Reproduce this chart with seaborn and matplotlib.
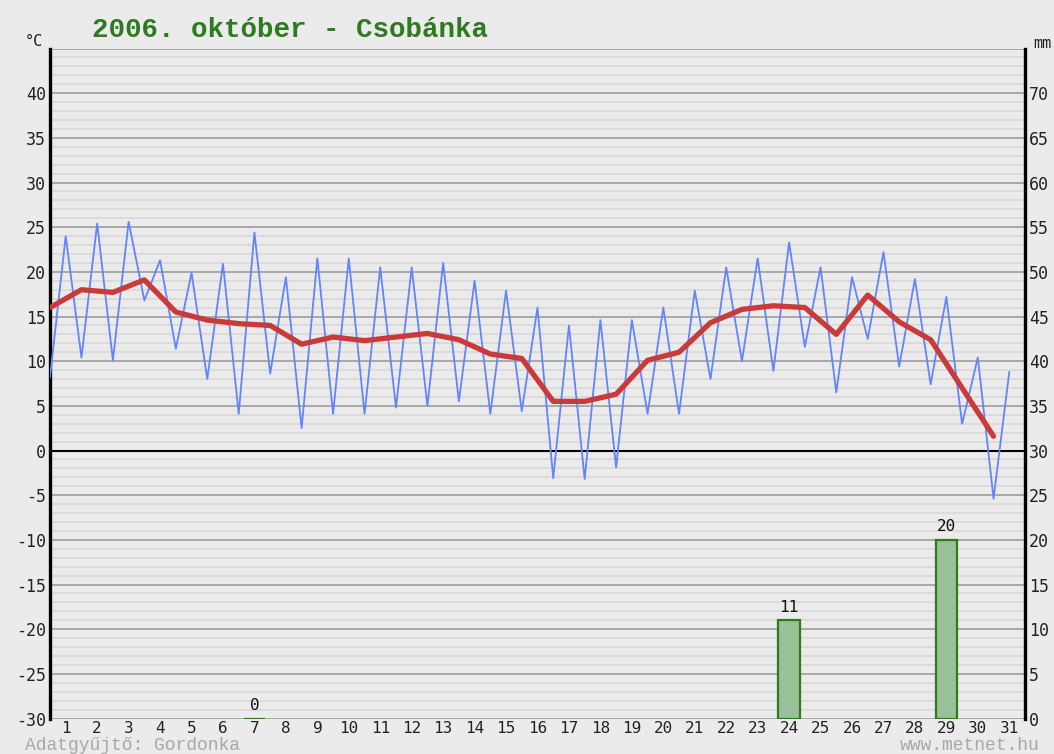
import numpy as np
import pandas as pd
import matplotlib
matplotlib.use("Agg")
import matplotlib.pyplot as plt
import seaborn as sns

# Daily data, October 2006
days = list(range(1, 32))
t_min = [8.2, 10.4, 10.1, 16.8, 11.4, 8.0, 4.1, 8.6, 2.5, 4.1, 4.1, 4.8, 5.0, 5.5, 4.1, 4.4,
         -3.1, -3.2, -1.9, 4.1, 4.1, 8.0, 10.0, 8.9, 11.6, 6.5, 12.5, 9.4, 7.4, 3.0, -5.4]
t_max = [24.0, 25.4, 25.6, 21.3, 19.9, 20.9, 24.4, 19.4, 21.5, 21.5, 20.5, 20.5, 21.0, 19.0, 17.9, 16.0,
         14.0, 14.6, 14.6, 16.0, 17.9, 20.5, 21.5, 23.3, 20.5, 19.4, 22.2, 19.2, 17.2, 10.4, 8.8]
t_mean = [16.0, 18.0, 17.7, 19.1, 15.5, 14.6, 14.2, 14.0, 11.9, 12.7, 12.3, 12.7, 13.1, 12.4, 10.8, 10.3,
          5.5, 5.5, 6.3, 10.1, 11.0, 14.3, 15.8, 16.2, 16.0, 13.0, 17.4, 14.4, 12.4, 7.0, 1.6]
rain_days = [7, 24, 29]
rain_mm = [0, 11, 20]

title = "2006. október - Csobánka"
footer_left = "Adatgyűjtő: Gordonka"
footer_right = "www.metnet.hu"

BG = "#ebebeb"
sns.set_style("white", {"axes.facecolor": BG, "figure.facecolor": BG})
plt.rcParams["font.family"] = ["DejaVu Sans Mono", "DejaVu Sans"]
MONO = ["Liberation Mono", "DejaVu Sans Mono"]

fig = plt.figure(figsize=(10.54, 7.54), dpi=100)
W, H = 1054, 754
x0, x1 = 50, 1025
y_top, y_bot = 48.5, 718.5
rect = [x0 / W, (H - y_bot) / H, (x1 - x0) / W, (y_bot - y_top) / H]

# Background axis: precipitation (mm) with the grid; 1 mm == 1 degree, offset 30
axp = fig.add_axes(rect)
axp.set_facecolor(BG)
OFFSET = 30
for v in range(-30, 46):
    if v == 0:
        continue
    if v % 5 == 0:
        axp.axhline(v + OFFSET, color="#a3a3a3", lw=1.3, zorder=1)
    else:
        axp.axhline(v + OFFSET, color="#dadada", lw=1.3, zorder=0.5)
axp.axhline(OFFSET, color="black", lw=1.5, zorder=2)

d = np.array(days, dtype=float)
rain = pd.DataFrame({"x": d - 0.5, "mm": [np.nan] * len(days)})
for dd, mm in zip(rain_days, rain_mm):
    rain.loc[rain["x"] == dd - 0.5, "mm"] = mm
sns.barplot(data=rain, x="x", y="mm", native_scale=True, width=0.68, ax=axp,
            color="#99c29b", edgecolor="#2f7a1a", linewidth=1.6, saturation=1,
            errorbar=None, zorder=3)
for dd, mm in zip(rain_days, rain_mm):
    axp.text(dd - 0.5, mm + 0.6, str(mm), ha="center", va="bottom",
             fontsize=11.5, color="#111111", zorder=6)
axp.set_xlim(0, 31)
axp.set_ylim(0, 75)

# Foreground axis: temperatures
ax = fig.add_axes(rect)
ax.patch.set_visible(False)

# Night minimum at the start of each day slot, daytime maximum at its middle
blue = pd.DataFrame({
    "x": np.column_stack([d - 1.0, d - 0.5]).ravel(),
    "t": np.column_stack([t_min, t_max]).ravel(),
})
red = pd.DataFrame({"x": d - 1.0, "t": t_mean})
sns.lineplot(data=blue, x="x", y="t", ax=ax, color="#6384fb",
             lw=1.3, zorder=4, estimator=None, sort=False)
sns.lineplot(data=red, x="x", y="t", ax=ax, color="#c93a3a", lw=3.8,
             zorder=5, estimator=None, sort=False)

ax.set_xlim(0, 31)
ax.set_ylim(-30, 45)
ax.set_yticks(range(-30, 41, 5))
ax.set_yticklabels([str(v) for v in range(-30, 41, 5)])
ax.set_xticks(d - 0.5)
ax.set_xticklabels([str(v) for v in days])

axp.yaxis.tick_right()
axp.set_yticks(range(0, 71, 5))
axp.set_yticklabels([str(v) for v in range(0, 71, 5)])
axp.set_xticks([])

for a in (ax, axp):
    a.set_xlabel("")
    a.set_ylabel("")
    a.tick_params(length=0, labelsize=12, colors="#222222", pad=3)
    for s in a.spines.values():
        s.set_visible(False)
ax.tick_params(axis="x", pad=1.5, labelsize=11.5)

for s in ("left", "right"):
    ax.spines[s].set_visible(True)
    ax.spines[s].set_linewidth(2.4)
    ax.spines[s].set_color("black")

# Unit labels, title and footer
fig.text(25 / W, 1 - 42 / H, "°C", fontsize=11, color="#222222", va="center", ha="left")
fig.text(1033 / W, 1 - 44 / H, "mm", fontsize=11, color="#222222", va="center", ha="left")
fig.text(92 / W, 1 - 30 / H, title, fontsize=19.8, fontweight="bold",
         family=MONO, color="#2d7a1f", va="center", ha="left")
fig.text(25 / W, 1 - 745 / H, footer_left, fontsize=13,
         family=MONO, color="#a8a8a8", va="center", ha="left")
fig.text(900 / W, 1 - 745 / H, footer_right, fontsize=13,
         family=MONO, color="#a8a8a8", va="center", ha="left")

fig.savefig("out.png", dpi=100, facecolor=BG)
